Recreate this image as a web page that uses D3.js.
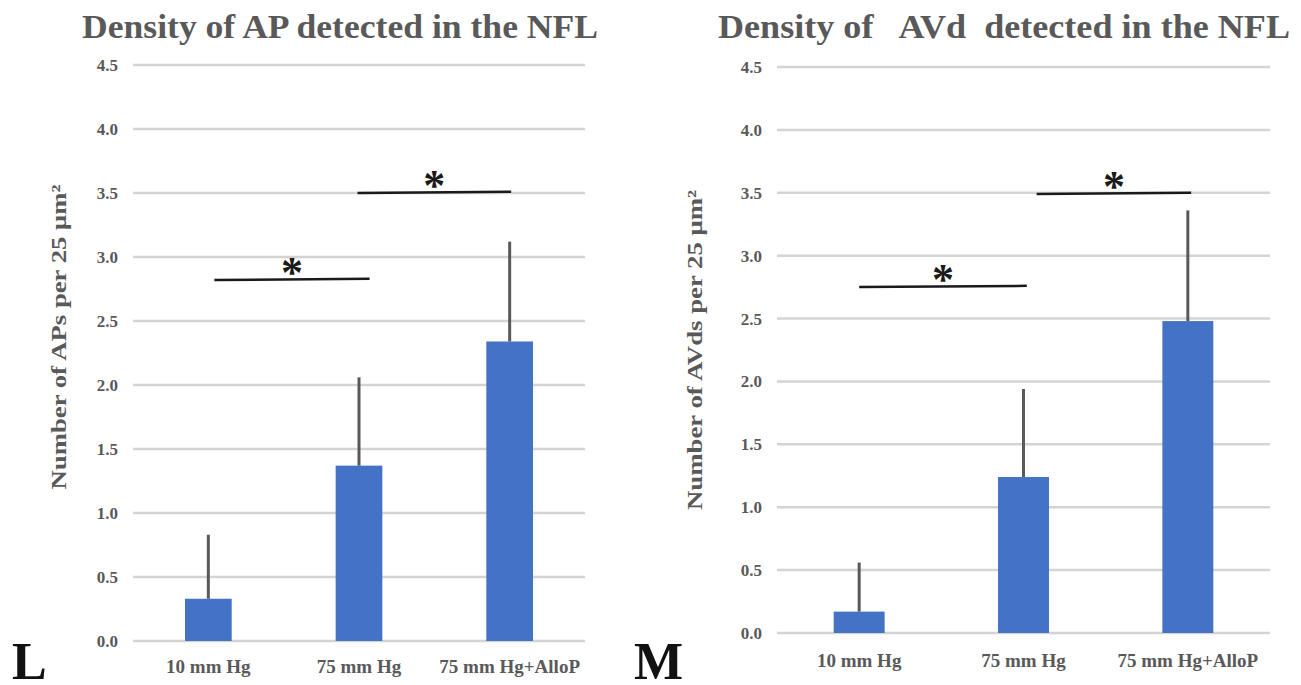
<!DOCTYPE html>
<html><head><meta charset="utf-8">
<script src="https://cdn.jsdelivr.net/npm/d3@7"></script>
<style>
html,body{margin:0;padding:0;background:#fff;}
svg text{font-family:"Liberation Serif","Times New Roman",serif;font-weight:bold;}
</style></head>
<body>
<svg id="chart" width="1301" height="685"></svg>
<script>
// ---- data ----
const categories = ["10 mm Hg", "75 mm Hg", "75 mm Hg+AlloP"];
const yTicks = [0, 0.5, 1.0, 1.5, 2.0, 2.5, 3.0, 3.5, 4.0, 4.5];

const apMeans = [0.33, 1.37, 2.34];
const apErrors = [0.50, 0.69, 0.78];
const apSig = [ // [from index, to index, y at start, y at end]
  [0.04, 1.07, 2.82, 2.83],
  [0.99, 2.01, 3.50, 3.51]
];

const avdMeans = [0.17, 1.24, 2.48];
const avdErrors = [0.39, 0.70, 0.88];
const avdSig = [
  [0.00, 1.02, 2.75, 2.76],
  [1.08, 2.02, 3.49, 3.50]
];

const panels = [
  {title: "Density of AP detected in the NFL", ytitle: "Number of APs per 25 μm²", letter: "L",
   means: apMeans, errors: apErrors, sig: apSig,
   left: 133, right: 585, top: 65, bottom: 641, titleX: 340, titleLen: 516,
   ytitleX: 66, ytitleY: 337, ytitleLen: 305, letterX: 12, xPad: 19},
  {title: "Density of\u00a0\u00a0 AVd\u00a0 detected in the NFL", ytitle: "Number of AVds per 25 μm²", letter: "M",
   means: avdMeans, errors: avdErrors, sig: avdSig,
   left: 777, right: 1270, top: 67, bottom: 633, titleX: 1004, titleLen: 572,
   ytitleX: 702, ytitleY: 350, ytitleLen: 320, letterX: 634, xPad: 21}
];

const svg = d3.select("#chart");
const gray = "#595959";

panels.forEach(p => {
  const g = svg.append("g");
  const x = d3.scaleBand().domain(categories).range([p.left, p.right]).paddingInner(0.69).paddingOuter(0.345);
  const y = d3.scaleLinear().domain([0, 4.5]).range([p.bottom, p.top]);
  const xi = i => x(categories[0]) + x.bandwidth() / 2 + i * x.step();

  // gridlines
  g.selectAll(".grid").data(yTicks).join("line")
    .attr("x1", p.left).attr("x2", p.right)
    .attr("y1", d => y(d)).attr("y2", d => y(d))
    .attr("stroke", "#d4d4d4").attr("stroke-width", 2.5);

  // y axis labels
  const yAxis = d3.axisLeft(y).tickValues(yTicks).tickFormat(d3.format(".1f")).tickSize(0).tickPadding(15);
  const ya = g.append("g").attr("transform", `translate(${p.left},0)`).call(yAxis);
  ya.select(".domain").remove();
  ya.selectAll("text").attr("font-size", 17).attr("fill", gray)
    .style("font-family", '"Liberation Serif",serif').style("font-weight", "bold");

  // x axis labels
  const xAxis = d3.axisBottom(x).tickSize(0).tickPadding(p.xPad);
  const xa = g.append("g").attr("transform", `translate(0,${p.bottom})`).call(xAxis);
  xa.select(".domain").remove();
  xa.selectAll("text").attr("font-size", 19).attr("fill", gray)
    .style("font-family", '"Liberation Serif",serif').style("font-weight", "bold");

  // bars
  g.selectAll(".bar").data(p.means).join("rect")
    .attr("x", (d, i) => x(categories[i])).attr("width", x.bandwidth())
    .attr("y", d => y(d)).attr("height", d => y(0) - y(d))
    .attr("fill", "#4472C4");

  // error bars (upper only)
  g.selectAll(".err").data(p.means).join("line")
    .attr("x1", (d, i) => x(categories[i]) + x.bandwidth() / 2)
    .attr("x2", (d, i) => x(categories[i]) + x.bandwidth() / 2)
    .attr("y1", d => y(d)).attr("y2", (d, i) => y(d + p.errors[i]))
    .attr("stroke", gray).attr("stroke-width", 3);

  // significance lines + stars
  p.sig.forEach(s => {
    g.append("line").attr("x1", xi(s[0])).attr("x2", xi(s[1]))
      .attr("y1", y(s[2])).attr("y2", y(s[3]))
      .attr("stroke", "#1a1a1a").attr("stroke-width", 2.5);
    g.append("text").attr("x", (xi(s[0]) + xi(s[1])) / 2).attr("y", y((s[2] + s[3]) / 2) + 8)
      .attr("text-anchor", "middle").attr("font-size", 44).attr("fill", "#1a1a1a").text("*");
  });

  // title
  g.append("text").attr("x", p.titleX).attr("y", 38).attr("text-anchor", "middle")
    .attr("font-size", 33).attr("fill", gray)
    .attr("textLength", p.titleLen).attr("lengthAdjust", "spacingAndGlyphs").text(p.title);

  // y title
  g.append("text").attr("transform", `translate(${p.ytitleX},${p.ytitleY}) rotate(-90)`)
    .attr("text-anchor", "middle").attr("font-size", 21).attr("fill", gray)
    .attr("textLength", p.ytitleLen).attr("lengthAdjust", "spacingAndGlyphs").text(p.ytitle);

  // panel letter
  g.append("text").attr("x", p.letterX).attr("y", 679).attr("font-size", 52).attr("fill", "#111").text(p.letter);
});
</script>
</body></html>
